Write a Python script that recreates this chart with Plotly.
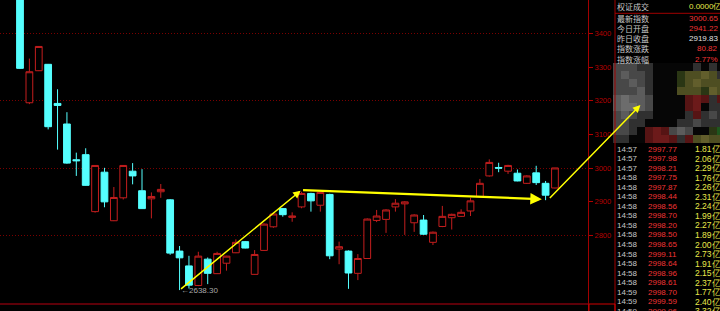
import plotly.graph_objects as go

W, H = 720, 311

# ---------------- data ----------------
idx = list(range(58))
opens = [3560, 3194, 3289, 3308, 3192, 3131, 3025, 3040, 2871, 2988,
         2844, 2912, 2991, 2933, 2909, 2930, 2906, 2754, 2710, 2652,
         2730, 2687, 2718, 2749, 2782, 2685, 2756, 2826, 2880, 2854,
         2885, 2925, 2890, 2922, 2760, 2754, 2688, 2732, 2845, 2848,
         2885, 2894, 2838, 2846, 2780, 2827, 2853, 2857, 2873, 2915,
         2977, 3002, 2991, 2985, 2955, 2986, 2955, 2941.22]
highs = [3580, 3325, 3362, 3309, 3234, 3166, 3046, 3059, 3009, 3001,
         2944, 3009, 3015, 2997, 2928, 2953, 2908, 2769, 2740, 2752,
         2735, 2752, 2740, 2789, 2784, 2757, 2836, 2868, 2882, 2869,
         2930, 2927, 2930, 2924, 2782, 2756, 2745, 2851, 2876, 2878,
         2908, 2902, 2863, 2861, 2812, 2888, 2865, 2878, 2912, 2968,
         3026, 3016, 3010, 2996, 2979, 3007, 2962, 3000.65]
lows = [3294, 3190, 3288, 3115, 3055, 3013, 2977, 2948, 2868, 2884,
        2843, 2907, 2952, 2879, 2851, 2912, 2743, 2638.30, 2643, 2650,
        2656, 2686, 2696, 2748, 2762, 2684, 2755, 2823, 2856, 2841,
        2881, 2871, 2871, 2730, 2715, 2642, 2668, 2731, 2840, 2808,
        2871, 2802, 2811, 2802, 2772, 2825, 2818, 2855, 2858, 2913,
        2975, 2988, 2983, 2961, 2953, 2950, 2905, 2940]
closes = [3296, 3286, 3361, 3123, 3186, 3015, 3022, 2949, 3008, 2900,
          2913, 3008, 2977, 2880, 2916, 2937, 2748, 2734, 2653, 2739,
          2688, 2747, 2739, 2780, 2763, 2744, 2834, 2864, 2862, 2858,
          2925, 2903, 2928, 2740, 2767, 2689, 2732, 2849, 2858, 2876,
          2896, 2900, 2861, 2804, 2810, 2857, 2863, 2869, 2903, 2955,
          3017, 3000, 3008, 2962, 2977, 2957, 2919.83, 3000.65]

y_tick_vals = [2800, 2900, 3000, 3100, 3200, 3300, 3400]
grid_vals = [2800, 3000, 3200, 3400]

low_mark = (17, 2638.30)
low_text = "←2638.30"

# trend arrows: (tail x, tail y, head x, head y) in index / price units
trend_arrows = [
    (17.0, 2638.3, 29.9, 2933),
    (30.0, 2935, 55.6, 2908),
    (56.3, 2907, 66.1, 3187),
]

quote_labels = ["权证成交", "最新指数", "今日开盘", "昨日收盘", "指数涨跌", "指数涨幅"]
quote_values = ["0.0000亿", "3000.65", "2941.22", "2919.83", "80.82", "2.77%"]

tick_times = ["14:57", "14:57", "14:57", "14:58", "14:58", "14:58", "14:58", "14:58",
              "14:58", "14:58", "14:58", "14:58", "14:58", "14:58", "14:58",
              "14:59", "14:59", "14:59"]
tick_prices = ["2997.77", "2997.98", "2998.21", "2997.75", "2997.87", "2998.44",
               "2998.56", "2998.70", "2998.20", "2998.50", "2998.65", "2999.11",
               "2998.64", "2998.96", "2998.61", "2998.70", "2999.59", "2999.96"]
tick_volumes = ["1.81亿", "2.06亿", "2.29亿", "1.76亿", "2.26亿", "2.31亿",
                "2.24亿", "1.99亿", "2.27亿", "1.89亿", "2.00亿", "2.73亿",
                "1.91亿", "2.15亿", "2.37亿", "1.77亿", "2.40亿", "3.32亿"]

# mosaic (pixelated area) block colours
mosaic_palette = {
    'K': (6, 6, 6), 'G1': (48, 48, 48), 'G2': (72, 72, 72), 'G3': (92, 92, 92),
    'G4': (108, 108, 108), 'O': (78, 78, 34), 'O2': (98, 94, 44), 'DG': (42, 54, 20),
    'R': (86, 20, 20), 'R2': (108, 26, 26), 'GG': (30, 86, 30),
}
mosaic_rows = [
    "G2 G2 G2 G1 G1 K K K K K G1 K G1 K",
    "G2 G3 G2 G2 G1 K K K DG O O O2 O G1",
    "G2 G2 G3 G2 G1 K K K DG O O2 O O O",
    "G2 G2 G2 G3 G1 K K K O O O DG O2 O",
    "G3 G4 G3 G3 G2 K K K K R R2 R G1 R",
    "G3 G4 G4 G3 G2 K K K K R R2 K G1 G1",
    "G2 G3 G2 G1 G1 K K K K G1 R G1 G2 G1",
    "G2 G2 G1 G1 K K K K G1 G1 G2 G1 G1 G1",
    "G2 G2 G1 K R R2 R G2 G3 G2 K K DG GG",
    "G1 G1 K K R R2 R2 R G1 R O O2 O O",
]

# ---------------- styles ----------------
RED = "#c41e1e"
CYAN = "#55ffff"
AXRED = "#b40000"
GRID = "#7a0000"
FRAME = "#a00000"
LBL = "#c8c8c8"
VRED = "#f03434"
YEL = "#e8e84a"
NUMF = "Liberation Sans"
CJKF = "Noto Sans CJK SC"
arrow_widths = [1.5, 2.3, 1.5]


def px(x):
    return x / W


def py(y):
    return 1 - y / H


fig = go.Figure()

fig.add_trace(go.Candlestick(
    x=idx, open=opens, high=highs, low=lows, close=closes,
    increasing=dict(line=dict(color=RED, width=1), fillcolor="#000000"),
    decreasing=dict(line=dict(color=CYAN, width=1), fillcolor=CYAN),
    whiskerwidth=0, hoverinfo="skip", showlegend=False,
))

z = [[list(mosaic_palette[k]) for k in row.split()] for row in mosaic_rows]
fig.add_trace(go.Image(z=z, xaxis="x2", yaxis="y2", hoverinfo="skip"))

annotations = []

# trend arrows
for (tx, ty, hx, hy), aw in zip(trend_arrows, arrow_widths):
    annotations.append(dict(
        x=hx, y=hy, ax=tx, ay=ty, xref="x", yref="y", axref="x", ayref="y",
        text="", showarrow=True, arrowhead=2, arrowsize=1, arrowwidth=aw,
        arrowcolor="#ffff00", standoff=0, startstandoff=0,
    ))

# low marker label
annotations.append(dict(
    x=low_mark[0], y=low_mark[1], xref="x", yref="y", text=low_text,
    showarrow=False, xanchor="left", yanchor="middle", borderpad=0,
    font=dict(family=NUMF, size=8, color="#a8a8a8"),
))

# quote panel
label_y = [6, 18.4, 28.6, 38.8, 49.0, 59.2]
value_colors = [YEL, VRED, VRED, "#e0e0e0", VRED, VRED]
annotations.append(dict(x=px(617), y=py(-4.5), xref="paper", yref="paper", text="全部成交",
                        showarrow=False, xanchor="left", yanchor="middle", borderpad=0,
                        font=dict(family=CJKF, size=8, color=LBL)))
for lab, val, yy, col in zip(quote_labels, quote_values, label_y, value_colors):
    annotations.append(dict(x=px(616), y=py(yy), xref="paper", yref="paper", text=lab,
                            showarrow=False, xanchor="left", yanchor="middle", borderpad=0,
                            font=dict(family=CJKF, size=8, color=LBL)))
    annotations.append(dict(x=px(722 if "亿" in val else 719), y=py(yy), xref="paper",
                            yref="paper", text=val, showarrow=False, xanchor="right",
                            yanchor="middle", borderpad=0,
                            font=dict(family=NUMF, size=8, color=col)))

# tick-by-tick rows
for k, (t, p, v) in enumerate(zip(tick_times, tick_prices, tick_volumes)):
    yy = 149 + 9.55 * k
    annotations.append(dict(x=px(616), y=py(yy), xref="paper", yref="paper", text=t,
                            showarrow=False, xanchor="left", yanchor="middle", borderpad=0,
                            font=dict(family=NUMF, size=8, color=LBL)))
    annotations.append(dict(x=px(647), y=py(yy), xref="paper", yref="paper", text=p,
                            showarrow=False, xanchor="left", yanchor="middle", borderpad=0,
                            font=dict(family=NUMF, size=8, color=VRED)))
    annotations.append(dict(x=px(722), y=py(yy), xref="paper", yref="paper", text=v,
                            showarrow=False, xanchor="right", yanchor="middle", borderpad=0,
                            font=dict(family=NUMF, size=8.5, color=YEL)))

shapes = [
    dict(type="line", xref="paper", yref="paper", x0=px(588.5), x1=px(588.5), y0=0, y1=1,
         line=dict(color=FRAME, width=1)),
    dict(type="line", xref="paper", yref="paper", x0=px(615), x1=px(615), y0=0, y1=1,
         line=dict(color=FRAME, width=1)),
    dict(type="line", xref="paper", yref="paper", x0=px(615), x1=1, y0=py(13.3), y1=py(13.3),
         line=dict(color=FRAME, width=1)),
    dict(type="rect", xref="paper", yref="paper", x0=px(589), x1=px(615), y0=py(304), y1=py(313),
         line=dict(color="#d00000", width=1)),
]

fig.update_layout(
    width=W, height=H, margin=dict(l=0, r=0, t=0, b=0),
    paper_bgcolor="#000000", plot_bgcolor="#000000",
    showlegend=False, annotations=annotations, shapes=shapes,
    boxgap=0.28, boxgroupgap=0,
    xaxis=dict(domain=[0, 588 / W], range=[-2.131, 60.52], showgrid=False, zeroline=False,
               showticklabels=False, ticks="", showline=True, linecolor="#5c0008", linewidth=2,
               rangeslider=dict(visible=False), fixedrange=True),
    yaxis=dict(domain=[1 - 303 / H, 1], range=[2600, 3498.8], side="right",
               tickmode="array", tickvals=y_tick_vals, ticks="outside", ticklen=4,
               tickcolor=AXRED, showgrid=False, zeroline=False, showline=False,
               tickfont=dict(family=NUMF, size=7.5, color=AXRED),
               minor=dict(tickmode="array", tickvals=grid_vals, showgrid=True,
                          gridcolor=GRID, griddash="1px,2px", gridwidth=1, ticks=""),
               fixedrange=True),
    xaxis2=dict(domain=[613 / W, 1], range=[-0.5, 12.875], visible=False, anchor="y2",
                fixedrange=True),
    yaxis2=dict(domain=[1 - 143 / H, 1 - 63 / H], range=[9.5, -0.5], visible=False,
                anchor="x2", fixedrange=True),
)

fig.write_html("out.html")
